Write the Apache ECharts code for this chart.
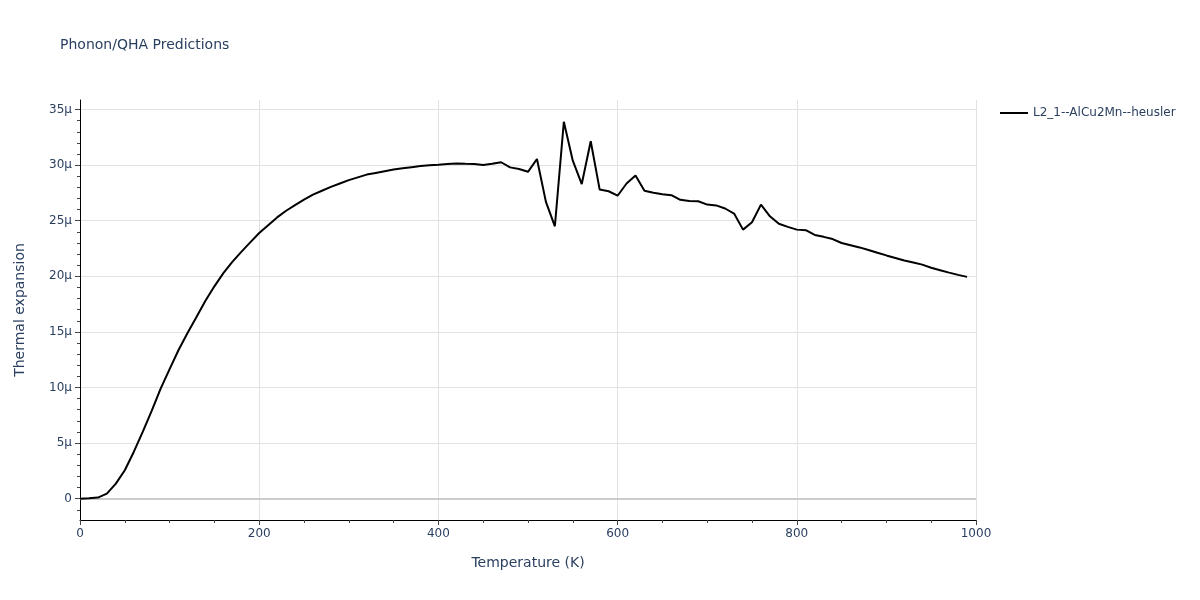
<!DOCTYPE html>
<html>
<head>
<meta charset="utf-8">
<script src="https://cdn.jsdelivr.net/npm/echarts@6/dist/echarts.min.js"></script>
<style>html,body{margin:0;padding:0;background:#fff;}#chart{width:1200px;height:600px;}</style>
</head>
<body>
<div id="chart"></div>
<script>
// Temperature (K)
const temperatures = [0,10,20,30,40,50,60,70,80,90,100,110,120,130,140,150,160,170,180,190,
  200,210,220,230,240,250,260,270,280,290,300,310,320,330,340,350,360,370,380,390,
  400,410,420,430,440,450,460,470,480,490,500,510,520,530,540,550,560,570,580,590,
  600,610,620,630,640,650,660,670,680,690,700,710,720,730,740,750,760,770,780,790,
  800,810,820,830,840,850,860,870,880,890,900,910,920,930,940,950,960,970,980,990];
// Thermal expansion in units of 1e-6 (μ)
const expansionMicro = [0,0.03,0.1,0.45,1.35,2.55,4.2,6.0,7.9,9.9,11.65,13.37,14.9,16.35,17.8,19.1,20.29,21.3,22.2,23.05,
  23.9,24.6,25.3,25.9,26.4,26.9,27.35,27.7,28.05,28.35,28.65,28.9,29.15,29.3,29.45,29.6,29.72,29.82,29.92,30.0,
  30.03,30.1,30.15,30.12,30.1,30.02,30.12,30.26,29.8,29.65,29.4,30.55,26.7,24.5,33.9,30.4,28.3,32.15,27.8,27.65,
  27.25,28.35,29.07,27.7,27.52,27.38,27.3,26.88,26.77,26.75,26.45,26.38,26.1,25.65,24.2,24.87,26.45,25.4,24.73,24.45,
  24.2,24.15,23.72,23.55,23.35,23.0,22.8,22.6,22.37,22.12,21.88,21.65,21.42,21.25,21.05,20.77,20.55,20.33,20.13,19.95];
const yMajorTicks = [0,5,10,15,20,25,30,35];
const yMinorTicks = [-1,0,1,2,3,4,5,6,7,8,9,10,11,12,13,14,15,16,17,18,19,20,21,22,23,24,25,26,27,28,29,30,31,32,33,34,35];
const seriesName = 'L2_1--AlCu2Mn--heusler';
const titleText = 'Phonon/QHA Predictions';
const xTitle = 'Temperature (K)';
const yTitle = 'Thermal expansion';

const FONT = '"DejaVu Sans", Verdana, sans-serif';
const TXT = '#2a3f5f';
const yMin = -1.92, yMax = 35.86;

const chart = echarts.init(document.getElementById('chart'), null, {renderer: 'canvas'});
chart.setOption({
  animation: false,
  backgroundColor: '#fff',
  title: {
    text: titleText, left: 55, top: 33,
    textStyle: {fontFamily: FONT, fontSize: 14, fontWeight: 'normal', color: TXT}
  },
  legend: {
    left: 995, top: 102,
    icon: 'path://M0,0L28,0L28,2L0,2Z',
    itemWidth: 28, itemHeight: 2, itemGap: 10,
    textStyle: {fontFamily: FONT, fontSize: 12, color: TXT},
    data: [seriesName]
  },
  grid: {left: 80, right: 224, top: 100, bottom: 80, containLabel: false},
  xAxis: {
    type: 'value', min: 0, max: 1000, interval: 200,
    name: xTitle, nameLocation: 'middle', nameGap: 36,
    nameTextStyle: {fontFamily: FONT, fontSize: 14, color: TXT},
    axisLine: {show: true, onZero: false, lineStyle: {color: '#000', width: 1}},
    axisTick: {show: true, length: 5, lineStyle: {color: '#444'}},
    minorTick: {show: true, splitNumber: 4, length: 3, lineStyle: {color: '#444'}},
    axisLabel: {fontFamily: FONT, fontSize: 12, color: TXT, margin: 8, formatter: v => String(v)},
    splitLine: {show: true, lineStyle: {color: '#e2e2e2', width: 1}}
  },
  yAxis: [{
    type: 'value', min: yMin, max: yMax,
    name: yTitle, nameLocation: 'middle', nameGap: 53,
    nameTextStyle: {fontFamily: FONT, fontSize: 14, color: TXT},
    axisLine: {show: true, onZero: false, lineStyle: {color: '#000', width: 1}},
    axisTick: {show: true, length: 5, customValues: yMajorTicks, lineStyle: {color: '#444'}},
    axisLabel: {
      fontFamily: FONT, fontSize: 12, color: TXT, margin: 8,
      customValues: yMajorTicks,
      formatter: v => (Math.abs(v) < 1e-9 ? '0' : Math.round(v) + 'μ')
    },
    splitLine: {show: true, lineStyle: {color: '#e2e2e2', width: 1}}
  }, {
    type: 'value', min: yMin, max: yMax, position: 'left', offset: 0,
    axisLine: {show: false},
    axisTick: {show: true, length: 3, customValues: yMinorTicks, lineStyle: {color: '#444'}},
    axisLabel: {show: false},
    splitLine: {show: false}
  }],
  series: [{
    name: seriesName, type: 'line', yAxisIndex: 0,
    data: temperatures.map((t, i) => [t, expansionMicro[i]]),
    symbol: 'none', smooth: false,
    lineStyle: {color: '#000', width: 2},
    itemStyle: {color: '#000'},
    z: 3,
    markLine: {
      silent: true, symbol: 'none', label: {show: false},
      lineStyle: {color: '#cccccc', width: 2, type: 'solid'},
      data: [{yAxis: 0}],
      z: 1
    }
  }]
});
</script>
</body>
</html>
